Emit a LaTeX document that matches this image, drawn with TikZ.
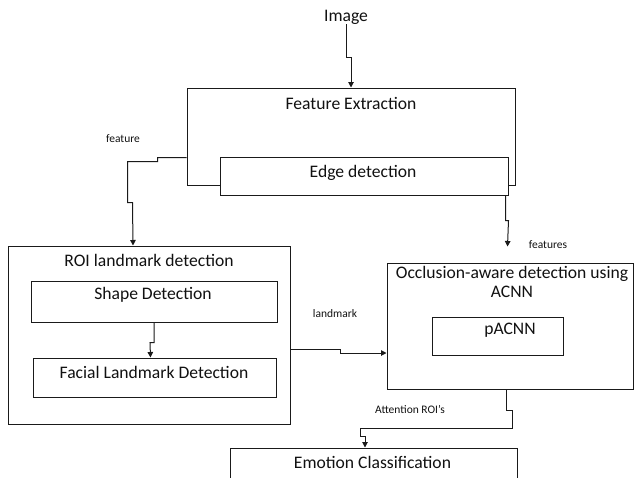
\documentclass[tikz,border=0pt]{standalone}
\usepackage{fontspec}
\setmainfont{Carlito}
\usetikzlibrary{calc,arrows.meta}
\definecolor{LineDark}{HTML}{1A1A1A}
\definecolor{TextDark}{HTML}{111111}

\begin{document}
\begin{tikzpicture}[
  x=1pt, y=-1pt,
  line join=miter,
  box/.style={draw=LineDark, fill=white, line width=1pt, inner sep=0pt},
  title/.style={text=TextDark, font=\fontsize{17.6}{20}\selectfont, inner sep=0pt, align=center},
  tag/.style={text=TextDark, font=\fontsize{11.5}{13}\selectfont, inner sep=0pt},
  flow/.style={LineDark, line width=1pt, -{Triangle[length=5.5pt,width=5.5pt]}}
]

% === Page frame (keeps the proportions) ===
\useasboundingbox (0,0) rectangle (634,477);
\clip (0,0) rectangle (634,477);

% === Input ===
\node[title] (img) at (346,17) {Image};

% === Feature extraction block ===
\node[box, minimum width=328, minimum height=97] (fe) at (351,136.5) {};
\node[box, minimum width=288, minimum height=38] (ed) at (364,176) {};
\node[title] (feTxt) at (351,103) {Feature Extraction};
\node[title] (edTxt) at (363,173) {Edge detection};

% === ROI landmark block ===
\node[box, minimum width=282, minimum height=178] (roi) at (149,335) {};
\node[box, minimum width=246, minimum height=41] (shp) at (154,301.5) {};
\node[box, minimum width=243, minimum height=39] (fac) at (154.5,377.5) {};
\node[title] (roiTxt) at (149,260) {ROI landmark detection};
\node[title] (shpTxt) at (153,295) {Shape Detection};
\node[title] (facTxt) at (154,372) {Facial Landmark Detection};

% === Occlusion-aware block ===
\node[box, minimum width=246, minimum height=126] (occ) at (510,326) {};
\node[box, minimum width=131, minimum height=38] (pac) at (497.5,336) {};
\node[title] (occTxt) at (512,282) {Occlusion-aware detection using\\[-1pt]ACNN};
\node[title] (pacTxt) at (510,330) {pACNN};

% === Classifier (runs off the page) ===
\node[box, minimum width=287, minimum height=52] (emo) at (373.5,474) {};
\node[title] (emoTxt) at (372.5,462) {Emotion Classification};

% === Connector labels ===
\node[tag] (featTag) at (123,139) {feature};
\node[tag] (featsTag) at (548,245) {features};
\node[tag] (lmTag) at (335,314) {landmark};
\node[tag] (attTag) at (410,409) {Attention ROI's};

% === Connectors ===
\draw[flow] (img.south) |- ($(fe.north)+(-4,-30)$) -- ++(4,0) -- (fe.north);

\draw[flow] ($(fe.north west)+(0,70)$) -- ++(-29,0) -- ++(0,4) -- ++(-30,0)
  -- ++(0,41) -- ++(5,0) -- ($(roi.north)+(-16,0)$);

\coordinate (featEnd) at ($(occ.north west)+(121,-16)$);
\draw[flow] ($(ed.south east)+(-3,0)$) -- ++(0,25) -- ++(3,0) -- (featEnd);

\draw[flow] (shp.south) -- ++(0,20) -- ++(-4,0) -- ($(fac.north)+(-4,0)$);

\draw[flow] ($(roi.east)+(0,14)$) -- ++(50,0) -- ++(0,4) -- ($(occ.west)+(0,27)$);

\draw[flow] ($(occ.south)+(-4,0)$) -- ++(0,21) -- ++(6,0) -- ++(0,18)
  -- ++(-152,0) -- ++(0,8) -- ++(5,0) -- ($(emo.north)+(-8.5,0)$);

\end{tikzpicture}
\end{document}
